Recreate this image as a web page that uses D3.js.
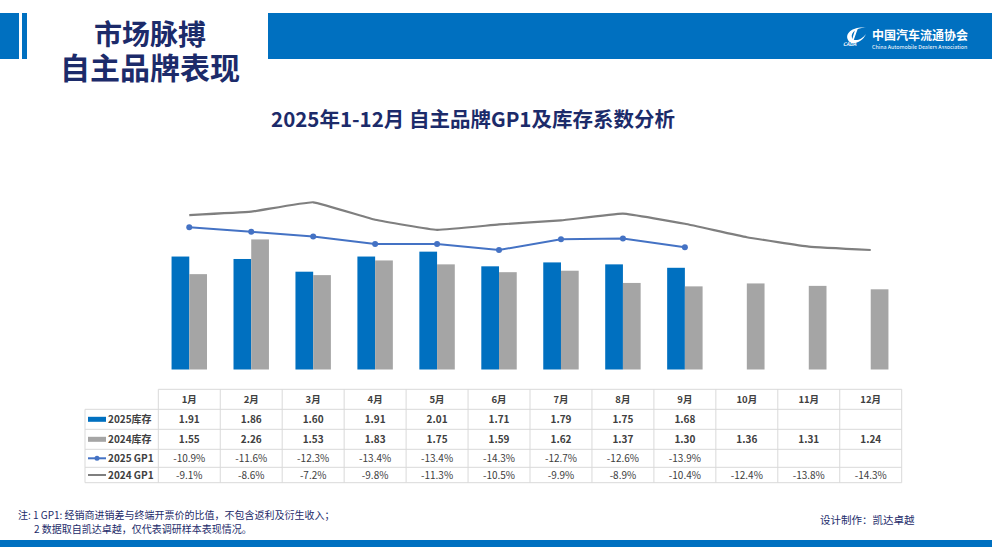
<html>
<head>
<meta charset="utf-8">
<script src="https://d3js.org/d3.v7.min.js"></script>
<style>
body { margin:0; background:#fff; }
text { font-family: "Noto Sans CJK SC", "Noto Sans", sans-serif; }
</style>
</head>
<body>
<svg width="992" height="558"></svg>
<script>
// data
var months = ["1月","2月","3月","4月","5月","6月","7月","8月","9月","10月","11月","12月"];
var inv2025 = [1.91, 1.86, 1.60, 1.91, 2.01, 1.71, 1.79, 1.75, 1.68];
var inv2024 = [1.55, 2.26, 1.53, 1.83, 1.75, 1.59, 1.62, 1.37, 1.30, 1.36, 1.31, 1.24];
var gp2025 = [-10.9, -11.6, -12.3, -13.4, -13.4, -14.3, -12.7, -12.6, -13.9];
var gp2024 = [-9.1, -8.6, -7.2, -9.8, -11.3, -10.5, -9.9, -8.9, -10.4, -12.4, -13.8, -14.3];
var seriesNames = ["2025库存", "2024库存", "2025 GP1", "2024 GP1"];

var navy = "#1c2b6a", blue = "#0070c0", grey = "#a5a5a5", lineBlue = "#4472c4", lineGrey = "#7f7f7f";
var svg = d3.select("svg");

// header
svg.append("rect").attr("x", 0).attr("y", 13).attr("width", 19).attr("height", 46).attr("fill", blue);
svg.append("rect").attr("x", 22).attr("y", 13).attr("width", 5).attr("height", 46).attr("fill", blue);
svg.append("rect").attr("x", 268).attr("y", 13).attr("width", 724).attr("height", 46).attr("fill", blue);
svg.append("text").attr("x", 150).attr("y", 45).attr("text-anchor", "middle")
	.style("font-size", "28px").style("font-weight", "bold").attr("fill", navy).text("市场脉搏");
svg.append("text").attr("x", 150).attr("y", 79).attr("text-anchor", "middle")
	.style("font-size", "30px").style("font-weight", "bold").attr("fill", navy).text("自主品牌表现");

// logo
var logo = svg.append("g").attr("transform", "translate(842,26)");
logo.append("path").attr("d", "M6,14 C2,6 14,0 24,2 C18,1 8,5 10,12 C12,16 20,14 24,8 C20,17 9,20 6,14 Z")
	.attr("fill", "#fff");
logo.append("path").attr("d", "M13,4 L16,2 L11,16 L9,17 Z").attr("fill", "#fff");
logo.append("text").attr("x", 1).attr("y", 20).style("font-size", "5px").style("font-weight", "bold")
	.style("font-style", "italic").attr("fill", "#fff").text("CADA");
svg.append("text").attr("x", 872).attr("y", 40).style("font-size", "12px").style("font-weight", "bold")
	.attr("fill", "#fff").text("中国汽车流通协会");
svg.append("text").attr("x", 872).attr("y", 49).style("font-size", "5.4px")
	.attr("fill", "#fff").text("China Automobile Dealers Association");

// title
svg.append("text").attr("x", 473).attr("y", 127).attr("text-anchor", "middle")
	.style("font-size", "20.5px").style("font-weight", "bold").attr("fill", navy)
	.text("2025年1-12月 自主品牌GP1及库存系数分析");

// scales
var x = d3.scaleBand().domain(months).range([158.3, 901.7]).padding(0);
var bw = x.bandwidth() * 0.286;
var yBar = d3.scaleLinear().domain([-0.4, 3.6]).range([369.5, 173.9]);
var yLine = d3.scaleLinear().domain([-30, 0]).range([355.5, 153.9]);
var cx = function(m) { return x(m) + x.bandwidth() / 2; };

// bars
svg.append("g").selectAll("rect").data(inv2025).enter().append("rect")
	.attr("x", function(d, i) { return cx(months[i]) - bw; })
	.attr("y", function(d) { return yBar(d); })
	.attr("width", bw)
	.attr("height", function(d) { return yBar(-0.4) - yBar(d); })
	.attr("fill", blue);
svg.append("g").selectAll("rect").data(inv2024).enter().append("rect")
	.attr("x", function(d, i) { return cx(months[i]); })
	.attr("y", function(d) { return yBar(d); })
	.attr("width", bw)
	.attr("height", function(d) { return yBar(-0.4) - yBar(d); })
	.attr("fill", grey);

// lines
var line = d3.line()
	.x(function(d, i) { return cx(months[i]); })
	.y(function(d) { return yLine(d); });
svg.append("path").datum(gp2024).attr("d", line.curve(d3.curveCardinal.tension(0.7)))
	.attr("fill", "none").attr("stroke", lineGrey).attr("stroke-width", 2.2);
svg.append("path").datum(gp2025).attr("d", line.curve(d3.curveLinear))
	.attr("fill", "none").attr("stroke", lineBlue).attr("stroke-width", 2);
svg.append("g").selectAll("circle").data(gp2025).enter().append("circle")
	.attr("cx", function(d, i) { return cx(months[i]); })
	.attr("cy", function(d) { return yLine(d); })
	.attr("r", 3).attr("fill", lineBlue);

// data table
var rowY = [389.3, 409.3, 429.3, 449.3, 467.3, 482.7];
var tLeft = 85, cLeft = x.range()[0], cRight = x.range()[1];
var grid = svg.append("g").attr("stroke", "#d9d9d9").attr("stroke-width", 1);
rowY.forEach(function(y, i) {
	grid.append("line").attr("x1", i == 0 ? cLeft : tLeft).attr("x2", cRight).attr("y1", y).attr("y2", y);
});
grid.append("line").attr("x1", tLeft).attr("x2", tLeft).attr("y1", rowY[1]).attr("y2", rowY[5]);
months.forEach(function(m) {
	grid.append("line").attr("x1", x(m)).attr("x2", x(m)).attr("y1", rowY[0]).attr("y2", rowY[5]);
});
grid.append("line").attr("x1", cRight).attr("x2", cRight).attr("y1", rowY[0]).attr("y2", rowY[5]);

var tcol = "#404040";
var mid = function(r) { return (rowY[r] + rowY[r + 1]) / 2 + 3.5; };
var pct = function(v) { return d3.format(".1f")(v).replace("−", "-") + "%"; };
svg.append("g").selectAll("text").data(months).enter().append("text")
	.attr("x", function(d) { return cx(d); }).attr("y", mid(0))
	.attr("text-anchor", "middle").style("font-size", "9.5px").style("font-weight", "bold")
	.attr("fill", tcol).text(function(d) { return d; });
var rows = [
	{vals: inv2025, fmt: d3.format(".2f"), bold: true},
	{vals: inv2024, fmt: d3.format(".2f"), bold: true},
	{vals: gp2025, fmt: pct, bold: false},
	{vals: gp2024, fmt: pct, bold: false}
];
rows.forEach(function(r, ri) {
	svg.append("g").selectAll("text").data(r.vals).enter().append("text")
		.attr("x", function(d, i) { return cx(months[i]); }).attr("y", mid(ri + 1))
		.attr("text-anchor", "middle").style("font-size", "10px")
		.style("font-weight", r.bold ? "bold" : "normal")
		.attr("fill", tcol).text(function(d) { return r.fmt(d); });
	svg.append("text").attr("x", 108).attr("y", mid(ri + 1))
		.style("font-size", "10px").style("font-weight", "bold").attr("fill", tcol)
		.text(seriesNames[ri]);
});
// legend keys
var ky = function(r) { return (rowY[r] + rowY[r + 1]) / 2; };
svg.append("rect").attr("x", 88).attr("y", ky(1) - 2.5).attr("width", 18).attr("height", 5).attr("fill", blue);
svg.append("rect").attr("x", 88).attr("y", ky(2) - 2.5).attr("width", 18).attr("height", 5).attr("fill", grey);
svg.append("line").attr("x1", 88).attr("x2", 106).attr("y1", ky(3)).attr("y2", ky(3))
	.attr("stroke", lineBlue).attr("stroke-width", 2);
svg.append("circle").attr("cx", 97).attr("cy", ky(3)).attr("r", 2.5).attr("fill", lineBlue);
svg.append("line").attr("x1", 88).attr("x2", 106).attr("y1", ky(4)).attr("y2", ky(4))
	.attr("stroke", lineGrey).attr("stroke-width", 2);

// footer
svg.append("text").attr("x", 18).attr("y", 519).style("font-size", "10px").attr("fill", navy)
	.text("注: 1 GP1: 经销商进销差与终端开票价的比值，不包含返利及衍生收入；");
svg.append("text").attr("x", 34).attr("y", 533).style("font-size", "10px").attr("fill", navy)
	.text("2 数据取自凯达卓越，仅代表调研样本表现情况。");
svg.append("text").attr("x", 820).attr("y", 524).style("font-size", "10.5px").attr("fill", navy)
	.text("设计制作：凯达卓越");
svg.append("rect").attr("x", 0).attr("y", 540).attr("width", 992).attr("height", 7).attr("fill", blue);
</script>
</body>
</html>
